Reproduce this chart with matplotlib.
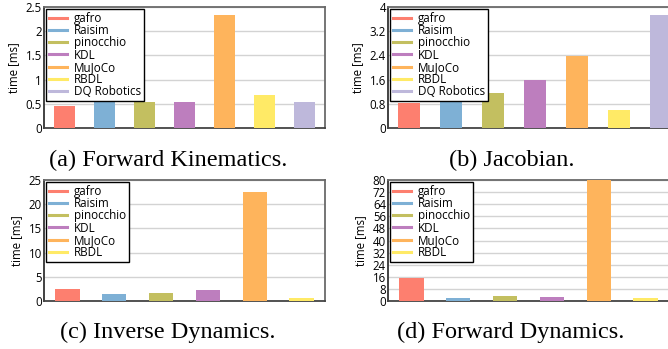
import matplotlib
matplotlib.use("Agg")
import matplotlib.pyplot as plt
from matplotlib.lines import Line2D

# ---- data ----
libs_fk = ["gafro", "Raisim", "pinocchio", "KDL", "MuJoCo", "RBDL", "DQ Robotics"]
fk_times = [0.45, 0.54, 0.54, 0.54, 2.34, 0.69, 0.54]

libs_jac = ["gafro", "Raisim", "pinocchio", "KDL", "MuJoCo", "RBDL", "DQ Robotics"]
jac_times = [0.83, 0.87, 1.17, 1.60, 2.39, 0.58, 3.72]

libs_id = ["gafro", "Raisim", "pinocchio", "KDL", "MuJoCo", "RBDL"]
id_times = [2.4, 1.45, 1.65, 2.2, 22.5, 0.55]

libs_fd = ["gafro", "Raisim", "pinocchio", "KDL", "MuJoCo", "RBDL"]
fd_times = [15.0, 1.8, 3.1, 2.4, 82.0, 1.8]

ticks_fk = [0, 0.5, 1, 1.5, 2, 2.5]
ticks_jac = [0, 0.8, 1.6, 2.4, 3.2, 4]
ticks_id = [0, 5, 10, 15, 20, 25]
ticks_fd = [0, 8, 16, 24, 32, 40, 48, 56, 64, 72, 80]

captions = ["(a) Forward Kinematics.", "(b) Jacobian.",
            "(c) Inverse Dynamics.", "(d) Forward Dynamics."]

colors = {
    "gafro": "#FD7F6F",
    "Raisim": "#7EB0D5",
    "pinocchio": "#C3BF60",
    "KDL": "#BD7EBE",
    "MuJoCo": "#FEB45C",
    "RBDL": "#FFEA66",
    "DQ Robotics": "#BEB8DB",
}

W, H = 668, 349
plt.rcParams["font.family"] = ["Open Sans", "DejaVu Sans"]
fig = plt.figure(figsize=(W / 100, H / 100), dpi=100)


def fmt(v):
    return ("%g" % v)


def panel(rect_px, libs, vals, ticks, caption, cap_xy):
    l, t, r, b = rect_px
    ax = fig.add_axes([l / W, 1 - b / H, (r - l) / W, (b - t) / H])
    n = len(libs)
    xs = list(range(n))
    ax.bar(xs, vals, width=0.52, color=[colors[k] for k in libs], zorder=3)
    ax.set_xlim(-0.5, n - 0.5)
    ax.set_ylim(ticks[0], ticks[-1])
    ax.set_yticks(ticks)
    ax.set_yticklabels([fmt(v) for v in ticks], fontsize=8.3)
    ax.set_xticks([])
    ax.tick_params(axis="y", length=0, pad=1.5)
    ax.yaxis.grid(True, color="#d3d3d3", lw=1.0, zorder=0)
    ax.set_axisbelow(True)
    for s in ax.spines.values():
        s.set_color("#6a6a6a")
        s.set_linewidth(1.3)
    ax.spines["left"].set_color("#333333")
    ax.spines["bottom"].set_color("#444444")
    ax.set_ylabel("time [ms]", fontsize=8.3, labelpad=4)
    handles = [Line2D([0], [0], color=colors[k], lw=2.2) for k in libs]
    leg = ax.legend(handles, libs, loc="upper left", fontsize=8.4,
                    frameon=True, fancybox=False, borderaxespad=0.15,
                    handlelength=1.6, handletextpad=0.6, labelspacing=-0.06,
                    borderpad=0.25, framealpha=1)
    leg.get_frame().set_edgecolor("black")
    leg.get_frame().set_linewidth(1.0)
    leg.set_zorder(5)
    fig.text(cap_xy[0] / W, 1 - cap_xy[1] / H, caption, ha="center",
             va="center", fontsize=17.5, family="Liberation Serif")
    return ax


panel((44, 7, 325, 128), libs_fk, fk_times, ticks_fk, captions[0], (168, 160))
panel((388, 7, 682, 128), libs_jac, jac_times, ticks_jac, captions[1], (512, 160))
panel((44, 180, 325, 301), libs_id, id_times, ticks_id, captions[2], (168, 332))
panel((388, 180, 669, 301), libs_fd, fd_times, ticks_fd, captions[3], (511, 332))

fig.savefig("out.png", dpi=100)
